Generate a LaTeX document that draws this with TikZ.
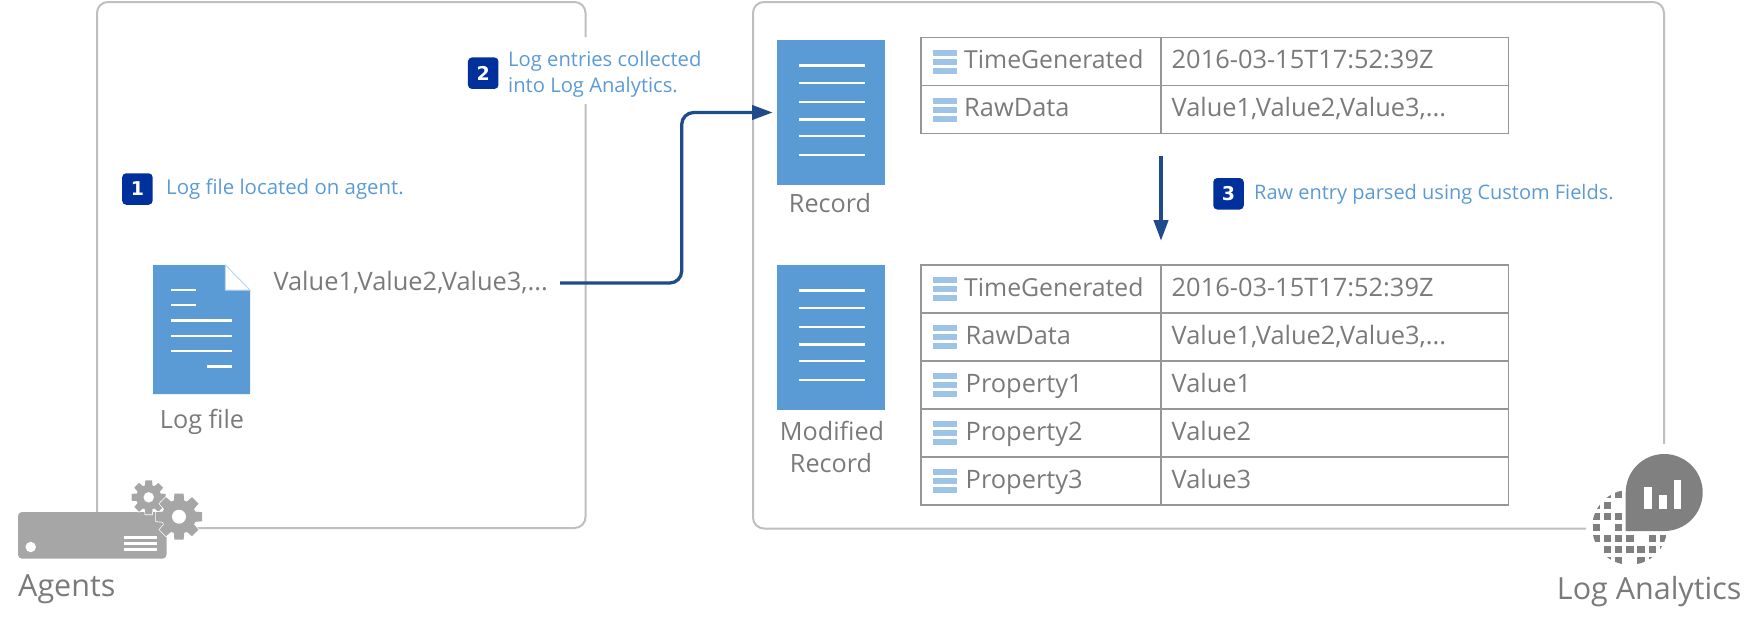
\documentclass[tikz,border=0pt]{standalone}
\usepackage{fontspec}
\setmainfont{Open Sans}
\newfontfamily\badgefont{DejaVu Sans}
\usetikzlibrary{arrows.meta,calc}
\definecolor{framegray}{HTML}{BFBFBF}
\definecolor{txtgray}{HTML}{7A7A7A}
\definecolor{celline}{HTML}{969696}
\definecolor{docblue}{HTML}{5B9BD5}
\definecolor{lblblue}{HTML}{5B9BD5}
\definecolor{iconblue}{HTML}{9DC3E6}
\definecolor{badgeblue}{HTML}{00309C}
\definecolor{flowblue}{HTML}{1F4A8C}
\definecolor{agentgray}{HTML}{A6A6A6}
\definecolor{omsgray}{HTML}{808080}
\tikzset{
  frame/.style={draw=framegray,line width=2pt,rounded corners=11pt},
  flow/.style={draw=flowblue,line width=3.3pt,-{Triangle[length=20.7pt,width=14.3pt]}},
  docbox/.style={fill=docblue,draw=none,inner sep=0,outer sep=0,minimum width=108pt,minimum height=145pt},
  docline/.style={draw=white,line width=2.4pt},
  badge/.style={fill=badgeblue,rounded corners=4pt,inner sep=0,minimum width=30.5pt,minimum height=31.5pt,text=white,font=\badgefont\bfseries\fontsize{19}{19}\selectfont},
  lbl/.style={anchor=base west,inner sep=0,text=lblblue,font=\fontsize{20.2}{26}\selectfont,align=left},
  captxt/.style={anchor=base,inner sep=0,text=txtgray,font=\fontsize{25.2}{32}\selectfont,align=center},
  celltext/.style={anchor=base west,inner sep=0,text=txtgray,font=\fontsize{25.4}{28}\selectfont},
  timetext/.style={celltext,font=\fontsize{24.8}{28}\selectfont},
  hugecap/.style={anchor=base west,inner sep=0,text=txtgray,font=\fontsize{30.5}{34}\selectfont},
  cellbox/.style={draw=celline,line width=1.5pt,inner sep=0,outer sep=0,anchor=north west,minimum height=48pt},
  keycell/.style={cellbox,minimum width=240pt},
  valcell/.style={cellbox,minimum width=347.5pt},
  fieldbar/.style={fill=iconblue},
}
\newcommand{\fieldicon}[2]{%
  \foreach \k in {0,9,18}{\fill[fieldbar] (933.3,#2+12.3+\k) rectangle (957.3,#2+18.3+\k);}}
\newcommand{\gearshape}[5]{% x y R r colour/options
  \begin{scope}[shift={(#1,#2)}]
    \foreach \a in {0,45,...,315}{
      \filldraw[#5,rotate=\a] (-#4*0.38,0) -- (-#4*0.27,-#3) -- (#4*0.27,-#3) -- (#4*0.38,0) -- cycle;}
    \filldraw[#5] (0,0) circle[radius=#4];
  \end{scope}}
\begin{document}
\begin{tikzpicture}[x=1pt,y=-1pt]
\useasboundingbox (0,0) rectangle (1758,625);
% frames
\draw[frame] (585.5,37) -- (585.5,2) -- (97,2) -- (97,514);
\draw[frame] (585.5,104) -- (585.5,528) -- (190,528);
\draw[frame] (1664,444) -- (1664,2) -- (753,2) -- (753,528.5) -- (1586,528.5);
% log file
\fill[docblue] (153,265) -- (225.3,265) -- (250,290) -- (250,394) -- (153,394) -- cycle;
\draw[draw=docblue!40!white,line width=1pt,fill=white] (225.3,265) -- (250,290) -- (225.3,290) -- cycle;
\node[inner sep=0,minimum width=97pt,minimum height=129pt] (logfile) at (201.5,329.5) {};
\foreach \y/\a/\b in {289.7/171/196,305/171/196,320.3/171/232,335.7/171/232,351/171/232,366.3/207/232}{
  \draw[docline] (\a,\y) -- (\b,\y);}
\node[captxt] (logcap) at (202,428) {Log file};
\node[celltext] (logvalue) at (273.3,290.7) {Value1,Value2,Value3,...};
% records
\node[docbox,anchor=north west] (record) at (777,40) {};
\node[docbox,anchor=north west] (modrecord) at (777,265) {};
\foreach \o in {40,265}{\foreach \d in {25.3,43,61.7,79.3,96,115}{
  \draw[docline] (798.7,\o+\d) -- (865.3,\o+\d);}}
\node[captxt] (reccap) at (830,212) {Record};
\node[captxt] (modcap) at (832,440) {Modified};
\node[captxt] (modcapb) at (831,472) {Record};
% table A
\node[keycell] (ak1) at (921,37.3) {};
\node[valcell] (av1) at (1161,37.3) {};
\node[keycell] (ak2) at (921,85.3) {};
\node[valcell] (av2) at (1161,85.3) {};
\fieldicon{}{37.3}\fieldicon{}{85.3}
\node[timetext] at (964,68.3) {TimeGenerated};
\node[celltext] at (1171.5,68.3) {2016-03-15T17:52:39Z};
\node[celltext] at (964,116.3) {RawData};
\node[celltext] at (1171.5,116.3) {Value1,Value2,Value3,...};
% table B
\node[keycell] (bk1) at (921,265) {};
\node[valcell] (bv1) at (1161,265) {};
\node[keycell] (bk2) at (921,313) {};
\node[valcell] (bv2) at (1161,313) {};
\node[keycell] (bk3) at (921,361) {};
\node[valcell] (bv3) at (1161,361) {};
\node[keycell] (bk4) at (921,409) {};
\node[valcell] (bv4) at (1161,409) {};
\node[keycell] (bk5) at (921,457) {};
\node[valcell] (bv5) at (1161,457) {};
\fieldicon{}{265}\fieldicon{}{313}\fieldicon{}{361}\fieldicon{}{409}\fieldicon{}{457}
\node[timetext] at (964,296) {TimeGenerated};
\node[celltext] at (1171.5,296) {2016-03-15T17:52:39Z};
\node[celltext] at (965.5,344) {RawData};
\node[celltext] at (1171.5,344) {Value1,Value2,Value3,...};
\node[celltext] at (965.5,392) {Property1};
\node[celltext] at (1171.5,392) {Value1};
\node[celltext] at (965.5,440) {Property2};
\node[celltext] at (1171.5,440) {Value2};
\node[celltext] at (965.5,488) {Property3};
\node[celltext] at (1171.5,488) {Value3};
% labels
\node[badge] (b1) at (137.4,189) {1};
\node[lbl,font=\fontsize{20.4}{26}\selectfont] (l1) at (166,194) {Log file located on agent.};
\node[badge] (b2) at (483.2,73.2) {2};
\node[lbl] (l2) at (508,92.7) {Log entries collected\\into Log Analytics.};
\node[badge] (b3) at (1228.5,193.8) {3};
\node[lbl,font=\fontsize{20}{26}\selectfont] (l3) at (1254,199) {Raw entry parsed using Custom Fields.};
% connectors
\coordinate (flowstart) at (560,283);
\coordinate (flowbend) at (681.7,112.5);
\draw[flow,rounded corners=12pt] (flowstart) -| (flowbend) -- ([xshift=-4.3pt]record.west);
\draw[flow] ([yshift=-23pt]ak2.south east) -- ([yshift=24.3pt]bk1.north east);
% agent icon
\fill[agentgray,rounded corners=4pt] (18,512) rectangle (166.5,558.7);
\node[circle,fill=white,inner sep=0,minimum size=10.5pt] (agentdot) at (30.7,547) {};
\foreach \y in {537.7,543.3,549}{\draw[white,line width=3pt] (124.3,\y) -- (157,\y);}
\gearshape{148.7}{497.3}{17}{12.5}{white,line width=1.4pt}
\gearshape{148.7}{497.3}{17}{12.5}{agentgray,draw=none}
\fill[white] (148.7,497.3) circle[radius=5.2];
\gearshape{179}{516.7}{23}{17}{white,line width=1.4pt}
\gearshape{179}{516.7}{23}{17}{agentgray,draw=none}
\fill[white] (179,516.7) circle[radius=7];
\node[hugecap] (agents) at (18,596) {Agents};
% log analytics icon
\begin{scope}
  \clip (1629.7,527.3) circle[radius=37.5];
  \foreach \r/\c in {0/1,0/2,1/0,1/1,2/0,2/1,2/2,3/0,3/2,4/0,4/1,4/2,4/3,4/5,4/6,5/1,5/2,5/3,5/4,5/5,5/6,6/1,6/2,6/4,6/5}{
    \fill[omsgray] (1592.7+\c*11.17,491+\r*11) rectangle ++(7.4,7);}
\end{scope}
\fill[omsgray] (1625.7,531) -- (1625.7,492.5) arc[start angle=180,end angle=450,radius=38.5] -- cycle;
\foreach \x/\t/\b in {1644/487.3/1651.7,1659/495/1666.7,1674/480/1681.4}{
  \fill[white] (\x,\t) rectangle (\b,509.3);}
\node[hugecap] (omslabel) at (1556.7,599) {Log Analytics};
\end{tikzpicture}
\end{document}
